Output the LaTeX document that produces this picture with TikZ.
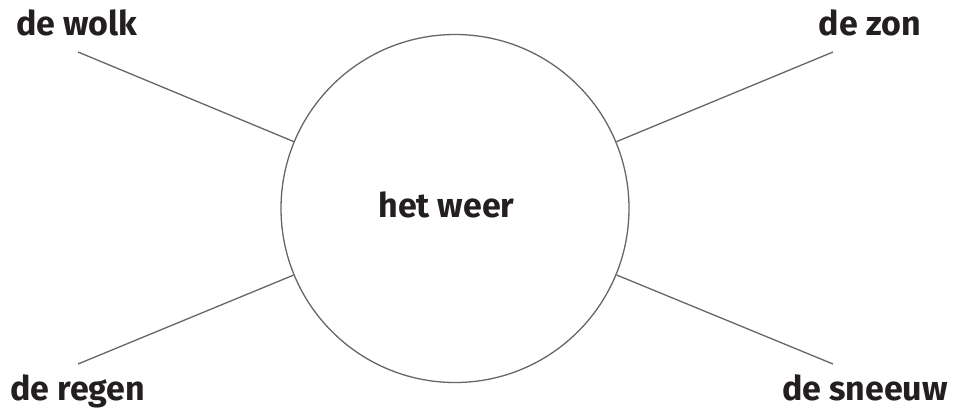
\documentclass[tikz,border=0pt]{standalone}
\usepackage{fontspec}
\setmainfont{Fira Sans}
\usetikzlibrary{positioning}
\definecolor{linegray}{HTML}{666666}
\definecolor{textdark}{HTML}{231F20}
\tikzset{weernode/.style={circle, draw=linegray, line width=1.3pt, minimum size=348pt, inner sep=0pt},
  wordnode/.style={inner sep=0pt, font=\fontsize{34}{40}\selectfont\bfseries, text=textdark},
  spoke/.style={draw=linegray, line width=1.3pt},}

\begin{document}
\begin{tikzpicture}[x=1pt, y=-1pt]
\useasboundingbox (0,0) rectangle (961,416);
\node [weernode] (weer) at (455,208.5) {};
\node [wordnode, anchor=base] (weertekst) at (446.5,217) {het weer};
\node [wordnode, anchor=base west] (wolk) at (16,35) {de wolk};
\node [wordnode, anchor=base east] (zon) at (921,35) {de zon};
\node [wordnode, anchor=base west] (regen) at (10,400) {de regen};
\node [wordnode, anchor=base east] (sneeuw) at (948,400) {de sneeuw};
\coordinate (wolkend) at (78,52);
\coordinate (zonend) at (833,52);
\coordinate (regenend) at (78,364);
\coordinate (sneeuwend) at (833,364);
\draw[spoke] (wolkend) -- (weer);
\draw[spoke] (zonend) -- (weer);
\draw[spoke] (regenend) -- (weer);
\draw[spoke] (sneeuwend) -- (weer);
\end{tikzpicture}
\end{document}
